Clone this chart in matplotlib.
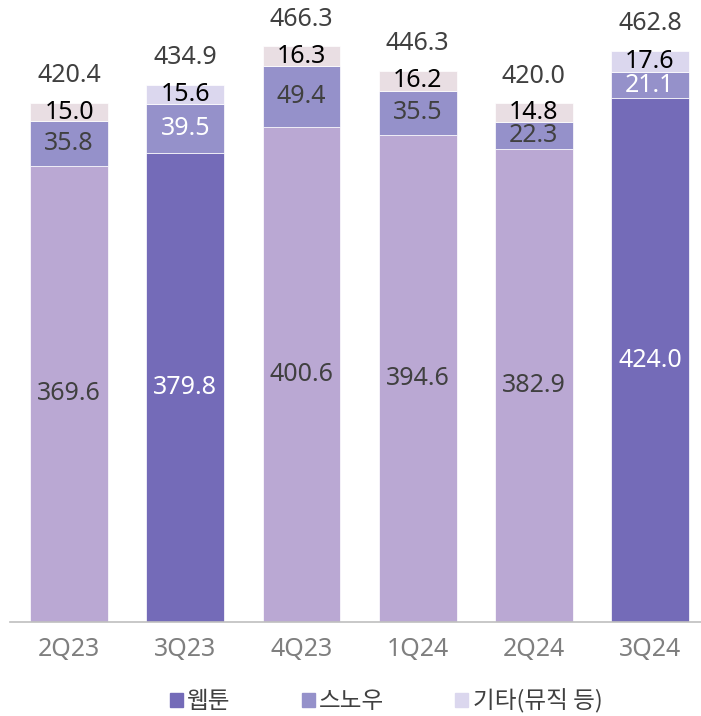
import matplotlib
matplotlib.use("Agg")
import matplotlib.pyplot as plt
import matplotlib.patches as mpatches
import numpy as np

plt.rcParams["font.family"] = ["Noto Sans", "Noto Sans CJK KR", "DejaVu Sans"]

# data
quarters = ["2Q23", "3Q23", "4Q23", "1Q24", "2Q24", "3Q24"]
webtoon = [369.6, 379.8, 400.6, 394.6, 382.9, 424.0]
snow = [35.8, 39.5, 49.4, 35.5, 22.3, 21.1]
other = [15.0, 15.6, 16.3, 16.2, 14.8, 17.6]
totals = [420.4, 434.9, 466.3, 446.3, 420.0, 462.8]
highlight = [False, True, False, False, False, True]
legend_labels = ["웹툰", "스노우", "기타(뮤직 등)"]

# colours
DARK = "#746BB8"
LIGHT_BASE = "#BAA8D3"
MID = "#9591CA"
TOP_PINK = "#E9DEE3"
TOP_LAV = "#DBD7EE"

fig = plt.figure(figsize=(7.01, 7.16), dpi=100)
ax = fig.add_axes([10 / 701, 94 / 716, 691 / 701, 617.5 / 716])

x = np.arange(len(quarters))
w = 0.67

base_colors = [DARK if h else LIGHT_BASE for h in highlight]
top_colors = [TOP_LAV if h else TOP_PINK for h in highlight]

ax.bar(x, webtoon, w, color=base_colors, edgecolor="white", linewidth=0.5)
ax.bar(x, snow, w, bottom=webtoon, color=MID, edgecolor="white", linewidth=0.5)
bot2 = [a + b for a, b in zip(webtoon, snow)]
ax.bar(x, other, w, bottom=bot2, color=top_colors, edgecolor="white", linewidth=0.5)

fs = 18
for i in range(len(quarters)):
    c1 = "white" if highlight[i] else "#404040"
    ax.text(x[i], webtoon[i] / 2, f"{webtoon[i]:.1f}", ha="center", va="center",
            fontsize=fs, color=c1)
    c2 = "white" if highlight[i] else "#404040"
    ax.text(x[i], webtoon[i] + snow[i] / 2, f"{snow[i]:.1f}", ha="center", va="center",
            fontsize=fs, color=c2)
    ax.text(x[i], bot2[i] + other[i] / 2, f"{other[i]:.1f}", ha="center", va="center",
            fontsize=fs, color="black")
    ax.annotate(f"{totals[i]:.1f}", (x[i], totals[i]), xytext=(0, 19.5),
                textcoords="offset points", ha="center", va="center",
                fontsize=fs, color="#404040")

ax.set_xlim(-0.51, 5.44)
ax.set_ylim(0, 500)
ax.set_xticks(x)
ax.set_xticklabels(quarters, fontsize=18, color="#7F7F7F")
ax.tick_params(axis="x", length=0, pad=11)
ax.set_yticks([])
for s in ["top", "right", "left"]:
    ax.spines[s].set_visible(False)
ax.spines["bottom"].set_color("#BFBFBF")
ax.spines["bottom"].set_linewidth(1.2)

handles = [
    mpatches.Patch(color=DARK, label=legend_labels[0]),
    mpatches.Patch(color=MID, label=legend_labels[1]),
    mpatches.Patch(color=TOP_LAV, label=legend_labels[2]),
]
leg = fig.legend(handles=handles, loc="center", bbox_to_anchor=(0.551, 15 / 716),
                 ncol=3, frameon=False, handlelength=0.55, handleheight=0.55,
                 handletextpad=0.2, columnspacing=3.0,
                 prop={"family": ["Noto Sans CJK KR", "DejaVu Sans"], "size": 17})
for t in leg.get_texts():
    t.set_color("#404040")

fig.savefig("out.png", dpi=100)
